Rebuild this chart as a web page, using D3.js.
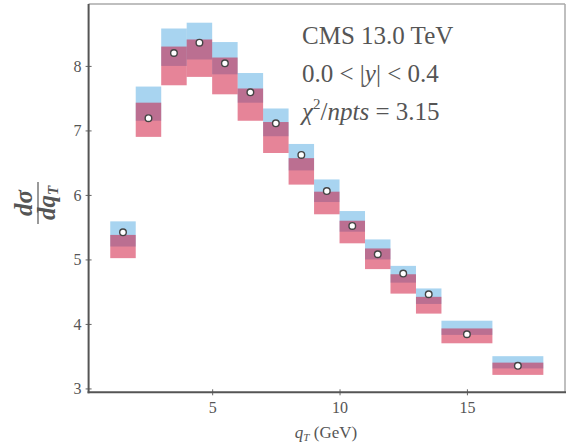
<!DOCTYPE html>
<html>
<head>
<meta charset="utf-8">
<script src="https://cdn.jsdelivr.net/npm/d3@7"></script>
<style>
  html, body { margin: 0; padding: 0; background: #fff; }
  svg { display: block; }
  text { font-family: "Liberation Serif", "DejaVu Serif", serif; fill: #555; }
</style>
</head>
<body>
<svg id="chart" width="567" height="445"></svg>
<script>
// ---- data ----
const binLo  = [1, 2, 3, 4, 5, 6, 7, 8, 9, 10, 11, 12, 13, 14, 16];
const binHi  = [2, 3, 4, 5, 6, 7, 8, 9, 10, 11, 12, 13, 14, 16, 18];
const points = [5.42, 7.19, 8.20, 8.36, 8.04, 7.59, 7.11, 6.62, 6.06, 5.52, 5.08, 4.78, 4.46, 3.84, 3.35];
const blueHi = [5.59, 7.68, 8.58, 8.67, 8.37, 7.89, 7.34, 6.79, 6.24, 5.75, 5.31, 4.90, 4.55, 4.05, 3.50];
const blueLo = [5.20, 7.15, 8.00, 8.10, 7.87, 7.43, 6.91, 6.38, 5.89, 5.43, 5.00, 4.64, 4.31, 3.83, 3.31];
const pinkHi = [5.38, 7.43, 8.30, 8.41, 8.13, 7.65, 7.13, 6.57, 6.05, 5.60, 5.17, 4.77, 4.42, 3.93, 3.40];
const pinkLo = [5.02, 6.90, 7.70, 7.83, 7.56, 7.15, 6.65, 6.16, 5.70, 5.25, 4.85, 4.47, 4.16, 3.70, 3.21];
const xTicks = [5, 10, 15];
const yTicks = [3, 4, 5, 6, 7, 8];

const rows = binLo.map((lo, i) => ({
  lo, hi: binHi[i], v: points[i],
  bHi: blueHi[i], bLo: blueLo[i], pHi: pinkHi[i], pLo: pinkLo[i]
}));

// ---- layout ----
const svg = d3.select("#chart");
const L = 88.6, R = 565, T = 4, B = 392.3;

const x = d3.scaleLinear().domain([0.15, 18.85]).range([L, R]);
const y = d3.scaleLinear().domain([2.94, 8.96]).range([B, T]);

// ---- bands ----
const g = svg.append("g");
g.selectAll("rect.blue").data(rows).join("rect")
  .attr("class", "blue")
  .attr("x", d => x(d.lo)).attr("width", d => x(d.hi) - x(d.lo))
  .attr("y", d => y(d.bHi)).attr("height", d => y(d.bLo) - y(d.bHi))
  .attr("fill", "rgb(81,169,225)").attr("fill-opacity", 0.5);

g.selectAll("rect.pink").data(rows).join("rect")
  .attr("class", "pink")
  .attr("x", d => x(d.lo)).attr("width", d => x(d.hi) - x(d.lo))
  .attr("y", d => y(d.pHi)).attr("height", d => y(d.pLo) - y(d.pHi))
  .attr("fill", "rgb(205,10,50)").attr("fill-opacity", 0.5);

// data points
g.selectAll("circle").data(rows).join("circle")
  .attr("cx", d => x((d.lo + d.hi) / 2))
  .attr("cy", d => y(d.v))
  .attr("r", 3.3)
  .attr("fill", "#fff").attr("stroke", "#444").attr("stroke-width", 1.4);

// ---- frame ----
svg.append("line").attr("x1", L).attr("x2", R).attr("y1", T).attr("y2", T)
  .attr("stroke", "#aaa").attr("stroke-width", 1.5);
svg.append("line").attr("x1", R).attr("x2", R).attr("y1", T).attr("y2", B)
  .attr("stroke", "#aaa").attr("stroke-width", 1.5);

// ---- axes ----
const xAxis = d3.axisBottom(x).tickValues(xTicks).tickFormat(d3.format("d"))
  .tickSizeInner(-3).tickSizeOuter(0).tickPadding(9);
const gx = svg.append("g").attr("transform", `translate(0,${B})`).call(xAxis);
gx.select(".domain").remove();
gx.selectAll(".tick line").attr("stroke", "#666").attr("y1", 3);
gx.selectAll(".tick text").attr("font-size", 16).attr("fill", "#555")
  .attr("font-family", "Liberation Serif, serif");

const yAxis = d3.axisLeft(y).tickValues(yTicks).tickFormat(d3.format("d"))
  .tickSizeInner(3).tickSizeOuter(0).tickPadding(4);
const gy = svg.append("g").attr("transform", `translate(${L},0)`).call(yAxis);
gy.select(".domain").remove();
gy.selectAll(".tick line").attr("stroke", "#666").attr("x2", -3).attr("x1", 3);
gy.selectAll(".tick text").attr("font-size", 16).attr("fill", "#555")
  .attr("font-family", "Liberation Serif, serif");

// spines left/bottom
svg.append("line").attr("x1", L).attr("x2", L).attr("y1", T).attr("y2", B + 1)
  .attr("stroke", "#555").attr("stroke-width", 2);
svg.append("line").attr("x1", L - 1).attr("x2", R + 1).attr("y1", B).attr("y2", B)
  .attr("stroke", "#555").attr("stroke-width", 2);

// ---- annotation text ----
const ann = svg.append("g").attr("font-size", 25);
ann.append("text").attr("x", 302).attr("y", 43.5).text("CMS 13.0 TeV");
const t2 = ann.append("text").attr("x", 302).attr("y", 82);
t2.append("tspan").text("0.0 < |");
t2.append("tspan").attr("font-style", "italic").text("y");
t2.append("tspan").text("| < 0.4");
const t3 = ann.append("text").attr("x", 302).attr("y", 120);
t3.append("tspan").attr("font-style", "italic").text("χ");
t3.append("tspan").attr("font-size", 15).attr("dy", -11).text("2");
t3.append("tspan").attr("dy", 11).text("/");
t3.append("tspan").attr("font-style", "italic").text("npts");
t3.append("tspan").text(" = 3.15");

// ---- x label ----
const xl = svg.append("text").attr("x", 326).attr("y", 438)
  .attr("text-anchor", "middle").attr("font-size", 17);
xl.append("tspan").attr("font-style", "italic").text("q");
xl.append("tspan").attr("font-style", "italic").attr("font-size", 11).attr("dy", 3).text("T");
xl.append("tspan").attr("dy", -3).text(" (GeV)");

// ---- y label (rotated fraction) ----
const yl = svg.append("g").attr("transform", "translate(38,203) rotate(-90)");
yl.append("text").attr("x", 0).attr("y", -6).attr("text-anchor", "middle")
  .attr("font-size", 25).attr("font-style", "italic").attr("font-weight", "bold").text("dσ");
yl.append("line").attr("x1", -21).attr("x2", 21).attr("y1", 0).attr("y2", 0)
  .attr("stroke", "#555").attr("stroke-width", 1.2);
const den = yl.append("text").attr("x", 0).attr("y", 17).attr("text-anchor", "middle")
  .attr("font-size", 25).attr("font-style", "italic").attr("font-weight", "bold");
den.append("tspan").text("dq");
den.append("tspan").attr("font-size", 15).attr("dy", 3).text("T");
</script>
</body>
</html>
